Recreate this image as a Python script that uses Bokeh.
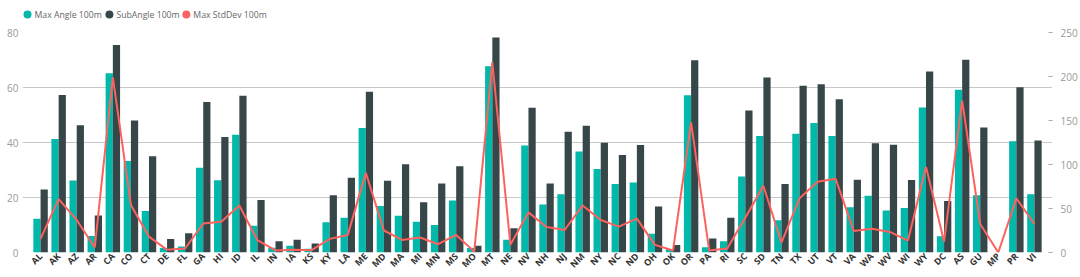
import math
from bokeh.plotting import figure
from bokeh.layouts import column
from bokeh.core.properties import value
from bokeh.models import (FactorRange, Range1d, LinearAxis, ColumnDataSource, FixedTicker)
from bokeh.transform import dodge
from bokeh.embed import file_html
from bokeh.resources import INLINE

states = ["AL", "AK", "AZ", "AR", "CA", "CO", "CT", "DE", "FL", "GA", "HI", "ID", "IL", "IN",
          "IA", "KS", "KY", "LA", "ME", "MD", "MA", "MI", "MN", "MS", "MO", "MT", "NE", "NV",
          "NH", "NJ", "NM", "NY", "NC", "ND", "OH", "OK", "OR", "PA", "RI", "SC", "SD", "TN",
          "TX", "UT", "VT", "VA", "WA", "WV", "WI", "WY", "DC", "AS", "GU", "MP", "PR", "VI"]

max_angle = [12.3, 41.3, 26.2, 6.0, 65.2, 33.3, 15.1, 1.6, 2.2, 30.8, 26.3, 42.8, 9.7, 1.7,
             2.5, 1.4, 11.0, 12.6, 45.3, 16.9, 13.4, 11.2, 10.0, 18.9, 1.6, 67.7, 4.6, 38.9,
             17.5, 21.2, 36.7, 30.4, 24.9, 25.5, 6.8, 1.2, 57.2, 1.9, 4.1, 27.6, 42.4, 11.7,
             43.2, 47.1, 42.4, 16.5, 20.6, 15.3, 16.2, 52.7, 5.9, 59.2, 20.8, 0.0, 40.5, 21.2]

sub_angle = [22.9, 57.3, 46.3, 13.5, 75.5, 48.0, 35.0, 4.9, 7.0, 54.7, 42.0, 57.0, 19.1, 4.1,
             4.6, 3.3, 20.8, 27.2, 58.5, 26.1, 32.1, 18.3, 25.1, 31.4, 2.5, 78.2, 8.8, 52.6,
             25.1, 43.9, 46.1, 39.9, 35.5, 39.1, 16.7, 2.7, 69.9, 5.1, 12.6, 51.6, 63.6, 24.9,
             60.6, 61.2, 55.7, 26.5, 39.7, 39.2, 26.4, 65.8, 18.7, 70.1, 45.5, 0.0, 60.1, 40.7]

max_stddev = [15.5, 60.7, 37.0, 5.7, 199.0, 54.0, 18.0, 3.0, 4.5, 33.0, 35.0, 53.5, 14.0, 2.3,
              3.0, 2.6, 15.5, 20.0, 90.5, 25.0, 14.3, 17.0, 9.4, 20.0, 1.0, 216.0, 8.7, 45.6,
              29.0, 25.6, 53.5, 37.0, 29.4, 38.5, 8.7, 2.3, 147.8, 2.3, 4.5, 39.6, 75.8, 11.3,
              61.5, 80.3, 83.7, 24.5, 27.0, 23.4, 13.6, 97.3, 12.4, 172.7, 32.4, 0.0, 61.5, 32.4]

series_names = ["Max Angle 100m", "SubAngle 100m", "Max StdDev 100m"]
left_ticks = [0, 20, 40, 60, 80]
right_ticks = [0, 50, 100, 150, 200, 250]

TEAL = "#01B8AA"
DARK = "#374649"
RED = "#FD625E"
FONT = "Open Sans"

src = ColumnDataSource(dict(state=states, max_angle=max_angle, sub_angle=sub_angle,
                            max_stddev=max_stddev))

# ---------------- legend strip ----------------
# The column aligns this strip's frame with the main frame (22..1053 px),
# so its x range is expressed in page pixels over that span.
LG_H = 26
lg = figure(width=1080, height=LG_H, output_backend="svg", toolbar_location=None,
            x_range=Range1d(22, 1053), y_range=Range1d(0, LG_H),
            x_axis_type=None, y_axis_type=None,
            min_border_left=0, min_border_right=0, min_border_top=0, min_border_bottom=0)
lg.grid.visible = False
lg.outline_line_color = None
legend_x = [27, 109, 186]          # legend entry anchors (page pixels)
legend_y = LG_H - 14
lg.scatter(x=legend_x, y=[legend_y] * 3, marker="circle", size=8,
           fill_color=[TEAL, DARK, RED], line_color=None)
lg.text(x=[v + 7 for v in legend_x], y=[legend_y] * 3, text=series_names,
        text_font=value(FONT), text_font_size="8.7px", text_color="#666666",
        text_baseline="middle", text_align="left")

# ---------------- main chart ----------------
p = figure(width=1080, height=251,
           x_range=FactorRange(factors=states, range_padding=0.5, range_padding_units="absolute"),
           y_range=Range1d(0, 80),
           output_backend="svg", toolbar_location=None,
           min_border_left=22, min_border_right=27, min_border_top=6, min_border_bottom=24)
p.outline_line_color = None
p.background_fill_color = "white"

p.extra_y_ranges = {"sd": Range1d(0, 250)}

p.vbar(x=dodge("state", -0.2, range=p.x_range), top="max_angle", width=0.4, source=src,
       fill_color=TEAL, line_color=None)
p.vbar(x=dodge("state", 0.2, range=p.x_range), top="sub_angle", width=0.4, source=src,
       fill_color=DARK, line_color=None)
p.line(x="state", y="max_stddev", y_range_name="sd", source=src, line_color=RED, line_width=2)

# grid
p.xgrid.grid_line_color = None
p.ygrid.grid_line_color = "#C8C8C8"
p.ygrid.grid_line_width = 1
p.yaxis.ticker = FixedTicker(ticks=left_ticks)

# left axis
ya = p.yaxis[0]
ya.axis_line_color = None
ya.major_tick_line_color = None
ya.major_tick_out = 0
ya.major_tick_in = 0
ya.minor_tick_line_color = None
ya.minor_tick_out = 0
ya.major_label_text_color = "#999999"
ya.major_label_text_font = FONT
ya.major_label_text_font_size = "10px"
ya.major_label_standoff = 4

# right axis
ra = LinearAxis(y_range_name="sd", ticker=FixedTicker(ticks=right_ticks))
ra.axis_line_color = None
ra.major_tick_line_color = "#AAAAAA"
ra.major_tick_in = 4
ra.major_tick_out = 0
ra.minor_tick_line_color = None
ra.minor_tick_out = 0
ra.major_label_text_color = "#999999"
ra.major_label_text_font = FONT
ra.major_label_text_font_size = "10px"
ra.major_label_standoff = 8
p.add_layout(ra, "right")

# x axis
xa = p.xaxis[0]
xa.axis_line_color = None
xa.major_tick_line_color = None
xa.major_tick_out = 0
xa.major_tick_in = 0
xa.minor_tick_line_color = None
xa.minor_tick_out = 0
xa.major_label_orientation = math.pi / 4
xa.major_label_text_font = FONT
xa.major_label_text_font_style = "bold"
xa.major_label_text_font_size = "9px"
xa.major_label_text_color = "#333333"
xa.major_label_standoff = 2

layout = column(lg, p, spacing=0)
open("out.html", "w").write(file_html(layout, INLINE))
